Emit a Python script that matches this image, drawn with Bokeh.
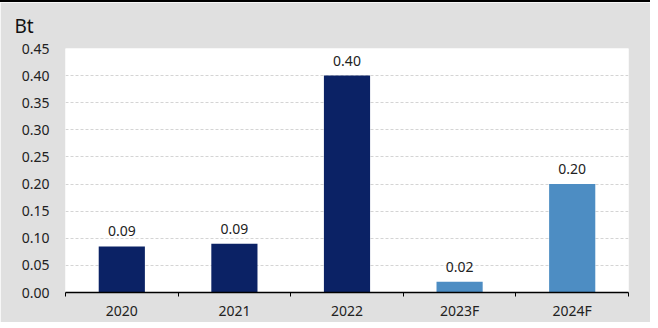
from bokeh.plotting import figure
from bokeh.models import ColumnDataSource, FixedTicker, Range1d, LabelSet
from bokeh.core.properties import value
from bokeh.embed import file_html
from bokeh.resources import INLINE

categories = ["2020", "2021", "2022", "2023F", "2024F"]
values = [0.085, 0.09, 0.40, 0.02, 0.20]
value_labels = ["0.09", "0.09", "0.40", "0.02", "0.20"]
bar_colors = ["#0b2265", "#0b2265", "#0b2265", "#4d8dc3", "#4d8dc3"]
y_ticks = [0.00, 0.05, 0.10, 0.15, 0.20, 0.25, 0.30, 0.35, 0.40, 0.45]
unit_label = "Bt"

FONT = "Noto Sans"
x_pos = [i + 0.5 for i in range(len(categories))]
source = ColumnDataSource(dict(x=x_pos, top=values, lbl=value_labels, color=bar_colors))

p = figure(width=650, height=318, frame_width=563, frame_height=244,
           x_range=Range1d(0, len(categories)), y_range=Range1d(0, 0.45),
           output_backend="svg", toolbar_location=None,
           min_border_left=65, min_border_right=22, min_border_top=46, min_border_bottom=28)
p.background_fill_color = "white"
p.border_fill_color = "#e0e0e0"
p.outline_line_color = None
p.styles = {"border-top": "2px solid black"}

p.title.text = unit_label
p.title.align = "left"
p.title.vertical_align = "top"
p.title.offset = -51
p.title.standoff = 16
p.title.text_font = FONT
p.title.text_font_size = "19px"
p.title.text_font_style = "normal"
p.title.text_color = "#111111"

p.vbar(x="x", top="top", width=0.41, color="color", line_color=None, source=source)

labels = LabelSet(x="x", y="top", text="lbl", source=source, text_align="center",
                  text_baseline="alphabetic", y_offset=10, text_font=value(FONT),
                  text_font_size="14px", text_color="#222222")
p.add_layout(labels)

# y axis
p.yaxis.ticker = FixedTicker(ticks=y_ticks)
p.yaxis.major_label_overrides = {t: f"{t:.2f}" for t in y_ticks}
p.yaxis.axis_line_color = None
p.yaxis.major_tick_line_color = None
p.yaxis.minor_tick_line_color = None
p.yaxis.major_label_standoff = 10
p.yaxis.major_label_text_font = FONT
p.yaxis.major_label_text_font_size = "14px"
p.yaxis.major_label_text_color = "#222222"

# x axis
p.xaxis.ticker = FixedTicker(ticks=x_pos, minor_ticks=list(range(len(categories) + 1)))
p.xaxis.major_label_overrides = {x: c for x, c in zip(x_pos, categories)}
p.xaxis.axis_line_color = "black"
p.xaxis.axis_line_width = 1.5
p.xaxis.major_tick_line_color = None
p.xaxis.major_tick_out = 0
p.xaxis.minor_tick_line_color = "black"
p.xaxis.minor_tick_out = 4
p.xaxis.minor_tick_in = 0
p.xaxis.major_label_standoff = 4
p.xaxis.major_label_text_font = FONT
p.xaxis.major_label_text_font_size = "14px"
p.xaxis.major_label_text_color = "#222222"

p.xgrid.grid_line_color = None
p.ygrid.ticker = FixedTicker(ticks=y_ticks)
p.ygrid.grid_line_color = "#d4d4d4"
p.ygrid.grid_line_dash = "3 2"

open("out.html", "w").write(file_html(p, INLINE))
